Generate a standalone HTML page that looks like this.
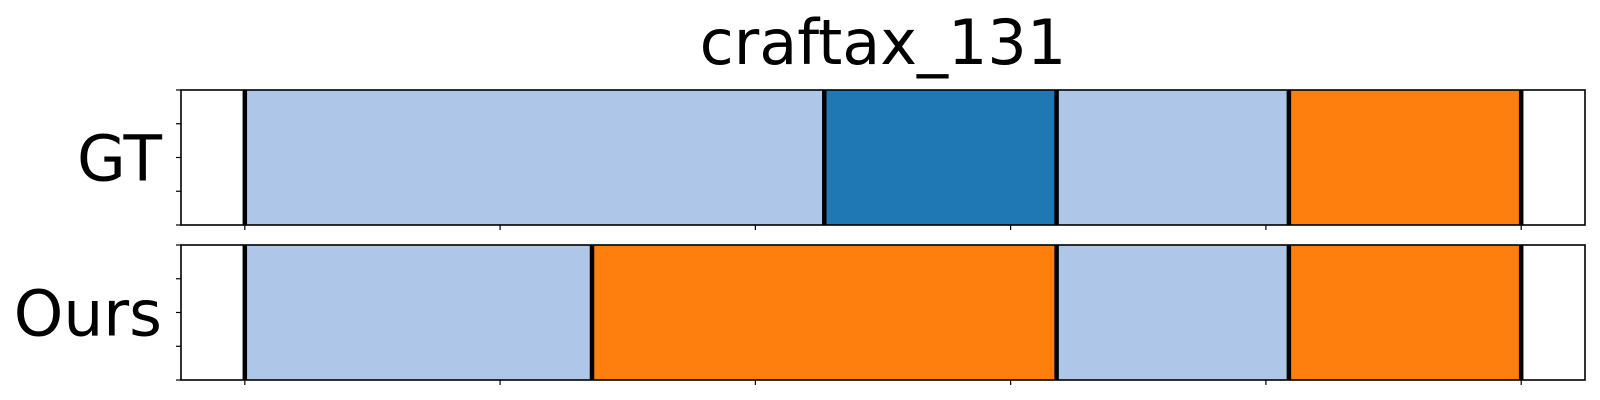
<!DOCTYPE html>
<html><head><meta charset="utf-8"><style>
html,body{margin:0;padding:0;background:#fff;}
svg{display:block;font-family:"DejaVu Sans","Liberation Sans",sans-serif;}
</style></head><body>
<svg id="chart" width="1600" height="400" viewBox="0 0 1600 400" xmlns="http://www.w3.org/2000/svg">
<text x="883" y="64" font-size="62" text-anchor="middle">craftax_131</text>
</svg>
<script>
const rowLabels = ["GT", "Ours"];
const gtBounds = [0, 113.5, 159, 204.5, 250];
const gtClasses = [0, 1, 0, 2];
const oursBounds = [0, 68, 159, 204.5, 250];
const oursClasses = [0, 2, 0, 2];
const xTicks = [0, 50, 100, 150, 200, 250];
const classColors = ["#aec7e8", "#1f77b4", "#ff7f0e"];

const svg = document.getElementById('chart');
const NS = "http://www.w3.org/2000/svg";
const axL = 181, axR = 1585, xMin = -12.5, xMax = 262.5;
function xs(v){ return axL + (v - xMin) / (xMax - xMin) * (axR - axL); }
const panels = [{top:90,bot:225,bounds:gtBounds,cls:gtClasses},{top:245,bot:380,bounds:oursBounds,cls:oursClasses}];
function mk(tag, attrs){ const e=document.createElementNS(NS,tag); for(const k in attrs) e.setAttribute(k,attrs[k]); svg.appendChild(e); return e; }

panels.forEach((p, pi) => {
  for (let i = 0; i < p.cls.length; i++) {
    const r = mk('rect', {x: xs(p.bounds[i]), y: p.top, width: xs(p.bounds[i+1]) - xs(p.bounds[i]), height: p.bot - p.top, fill: classColors[p.cls[i]]});
    
    
  }
  p.bounds.forEach((b, i) => {
    const l = mk('line', {x1: xs(b), x2: xs(b), y1: p.top, y2: p.bot, stroke: '#000', 'stroke-width': 4.5});
    
    
  });
  const f = mk('rect', {x: axL, y: p.top, width: axR - axL, height: p.bot - p.top, fill: 'none', stroke: '#000', 'stroke-width': 1.6});
  
  
  for (let k = 0; k <= 4; k++) {
    const y = p.top + (p.bot - p.top) * k / 4;
    const t = mk('line', {x1: axL - 5, x2: axL, y1: y, y2: y, stroke: '#000', 'stroke-width': 1.2});
    
    
  }
  xTicks.forEach(v => {
    const t = mk('line', {x1: xs(v), x2: xs(v), y1: p.bot, y2: p.bot + 5, stroke: '#000', 'stroke-width': 1.2});
    
    
  });
  const lab = mk('text', {x: 162, y: (p.top + p.bot) / 2 + 23, 'font-size': 63, 'text-anchor': 'end'});
  lab.textContent = rowLabels[pi];
  
  
});
</script>
</body></html>
